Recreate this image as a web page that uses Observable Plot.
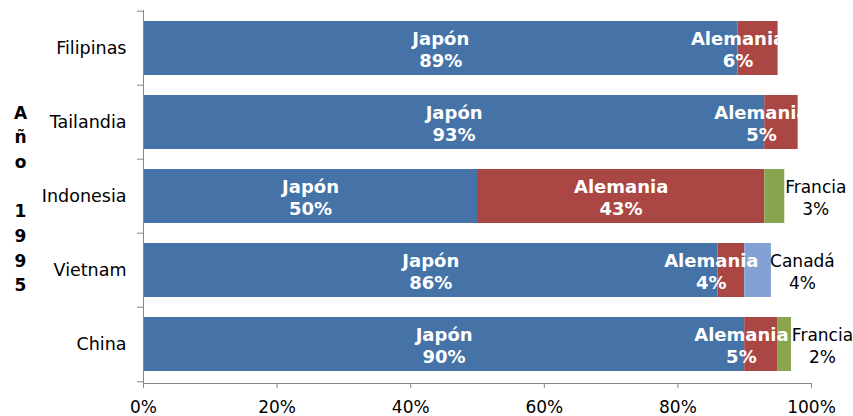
<!DOCTYPE html>
<html><head><meta charset="utf-8">
<script src="https://cdn.jsdelivr.net/npm/d3@7"></script>
<script src="https://cdn.jsdelivr.net/npm/@observablehq/plot@0.6"></script>
<style>body{margin:0;background:#fff}</style>
</head><body><div id="chart"></div>
<script>
const countries = ["Filipinas", "Tailandia", "Indonesia", "Vietnam", "China"];
const partners = ["Japón", "Alemania", "Francia", "Canadá"];
const japon = [89, 93, 50, 86, 90];
const alemania = [6, 5, 43, 4, 5];
const francia = [0, 0, 3, 0, 2];
const canada = [0, 0, 0, 4, 0];
const colors = ["#4572A7", "#AA4643", "#89A54E", "#82A2D6"];
const xTicks = [0, 20, 40, 60, 80, 100];
const yearLabel = "Año 1995";

const series = [japon, alemania, francia, canada];
const totals = countries.map((c, i) => series.reduce((s, a) => s + a[i], 0));
const rows = [];
countries.forEach((c, i) => {
  let acc = 0;
  partners.forEach((p, j) => {
    const v = series[j][i];
    if (v > 0) rows.push({country: c, partner: p, value: v, x1: acc, x2: acc + v, mid: acc + v / 2, total: totals[i]});
    acc += v;
  });
});
const label = r => `${r.partner}\n${r.value}%`;
const inside = rows.filter(r => r.partner === "Japón" || r.partner === "Alemania");
const big = inside.filter(r => r.value >= 10);
const small = inside.filter(r => r.value < 10);
const outside = rows.filter(r => r.partner === "Francia" || r.partner === "Canadá");
const fmt = d => d + "%";

const plot = Plot.plot({
  width: 853, height: 416,
  marginLeft: 143, marginRight: 42, marginTop: 10, marginBottom: 33,
  style: {fontFamily: "'DejaVu Sans', Verdana, sans-serif", fontSize: "17px", color: "#000", overflow: "visible", background: "#fff"},
  x: {domain: [0, 100], label: null, axis: null},
  y: {domain: countries, paddingInner: 0.27, paddingOuter: 0.135, label: null, axis: null},
  color: {domain: partners, range: colors},
  marks: [
    Plot.barX(rows, {x1: "x1", x2: "x2", y: "country", fill: "partner"}),
    Plot.frame({anchor: "left", stroke: "#868686"}),
    Plot.frame({anchor: "bottom", stroke: "#868686"}),
    Plot.axisX({ticks: xTicks, tickFormat: fmt, tickSize: 5, tickPadding: 12, stroke: "#868686", fill: "#000", fontSize: 17, label: null}),
    Plot.axisY({tickSize: 0, tickPadding: 17, fill: "#000", fontSize: 17.5, label: null}),
    Plot.axisY(countries, {tickSize: 6, tickFormat: () => "", stroke: "#868686", dy: -37.3, label: null}),
    Plot.axisY(countries.slice(-1), {tickSize: 6, tickFormat: () => "", stroke: "#868686", dy: 37.3, label: null}),
    Plot.text(big, {x: "mid", y: "country", text: label, fill: "white", fontWeight: "bold", fontSize: 18, lineHeight: 1.22}),
    Plot.text(small, {x: "mid", y: "country", text: label, fill: "white", fontWeight: "bold", fontSize: 18, lineHeight: 1.22, dx: -20}),
    Plot.text(outside, {x: "total", y: "country", text: label, fill: "black", fontSize: 17, lineHeight: 1.3, dx: 31}),
    Plot.text([yearLabel], {frameAnchor: "left", textAnchor: "middle", dx: -123, dy: 0, text: d => d.split("").join("\n"), fontWeight: "bold", fontSize: 17, lineHeight: 1.45, fill: "#000"})
  ]
});
document.getElementById("chart").append(plot);
</script>
</body></html>
